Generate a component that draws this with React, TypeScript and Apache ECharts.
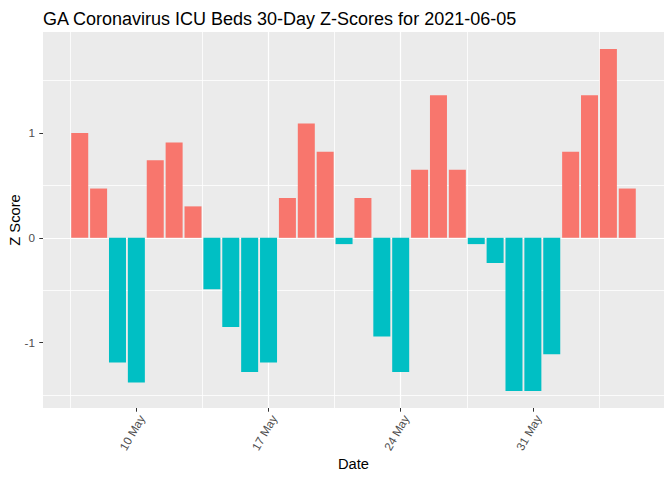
import React, { useEffect, useRef } from "react";
import * as echarts from "echarts";

const dates = [
  "2021-05-07", "2021-05-08", "2021-05-09", "2021-05-10", "2021-05-11", "2021-05-12",
  "2021-05-13", "2021-05-14", "2021-05-15", "2021-05-16", "2021-05-17", "2021-05-18",
  "2021-05-19", "2021-05-20", "2021-05-21", "2021-05-22", "2021-05-23", "2021-05-24",
  "2021-05-25", "2021-05-26", "2021-05-27", "2021-05-28", "2021-05-29", "2021-05-30",
  "2021-05-31", "2021-06-01", "2021-06-02", "2021-06-03", "2021-06-04", "2021-06-05",
];
const zScores = [
  1.0, 0.47, -1.19, -1.38, 0.74, 0.91,
  0.3, -0.49, -0.85, -1.28, -1.19, 0.38,
  1.09, 0.82, -0.06, 0.38, -0.94, -1.28,
  0.65, 1.36, 0.65, -0.06, -0.24, -1.46,
  -1.46, -1.11, 0.82, 1.36, 1.8, 0.47,
];
const xTickDates = ["2021-05-10", "2021-05-17", "2021-05-24", "2021-05-31"];
const yTickValues = [-1, 0, 1];
const monthNames = ["Jan", "Feb", "Mar", "Apr", "May", "Jun", "Jul", "Aug", "Sep", "Oct", "Nov", "Dec"];

const DAY = 86400000;
const originDate = xTickDates[0];
const toMs = (s: string) => {
  const [y, m, d] = s.split("-").map(Number);
  return Date.UTC(y, m - 1, d);
};
const toDay = (s: string) => Math.round((toMs(s) - toMs(originDate)) / DAY);
const dayLabel = (v: number) => {
  const dt = new Date(toMs(originDate) + Math.round(v) * DAY);
  return `${dt.getUTCDate()} ${monthNames[dt.getUTCMonth()]}`;
};

const POS = "#F8766D";
const NEG = "#00BFC4";
const FONT = "Liberation Sans";

export default function App() {
  const ref = useRef<HTMLDivElement>(null);
  useEffect(() => {
    if (!ref.current) return;
    document.body.style.margin = "0";
    const chart = echarts.init(ref.current, null, { renderer: "svg" });
    const xs = dates.map(toDay);
    const xMinData = Math.min(...xs) - 0.45;
    const xMaxData = Math.max(...xs) + 0.45;
    const xPad = (xMaxData - xMinData) * 0.05;
    const yMinData = Math.min(0, ...zScores);
    const yMaxData = Math.max(0, ...zScores);
    const yPad = (yMaxData - yMinData) * 0.05;
    const xTicks = xTickDates.map(toDay);

    chart.setOption({
      animation: false,
      backgroundColor: "#FFFFFF",
      textStyle: { fontFamily: FONT },
      title: {
        text: "GA Coronavirus ICU Beds 30-Day Z-Scores for 2021-06-05",
        left: 43,
        top: 10,
        padding: 0,
        textStyle: { fontFamily: FONT, fontSize: 18, fontWeight: "normal", color: "#000000" },
      },
      grid: {
        left: 43,
        right: 8,
        top: 32,
        bottom: 72,
        containLabel: false,
        outerBoundsMode: "none",
        show: true,
        backgroundColor: "#EBEBEB",
        borderWidth: 0,
      },
      xAxis: {
        type: "value",
        position: "bottom",
        min: xMinData - xPad,
        max: xMaxData + xPad,
        minInterval: 7,
        maxInterval: 7,
        name: "Date",
        nameLocation: "middle",
        nameGap: 48,
        nameMoveOverlap: false,
        nameTextStyle: { fontFamily: FONT, fontSize: 14.7, color: "#000000" },
        axisLine: { show: false, onZero: false },
        axisTick: {
          show: true,
          customValues: xTicks,
          length: 3.7,
          lineStyle: { color: "#333333", width: 1 },
        },
        axisLabel: {
          customValues: xTicks,
          rotate: 60,
          margin: 5,
          verticalAlign: "top",
          fontFamily: FONT,
          fontSize: 11.7,
          color: "#4D4D4D",
          formatter: (v: number) => dayLabel(v),
        },
        splitLine: { show: true, showMinLine: false, showMaxLine: false, lineStyle: { color: "#FFFFFF", width: 1.2 } },
        minorTick: { show: false, splitNumber: 2 },
        minorSplitLine: { show: true, lineStyle: { color: "#FFFFFF", width: 0.8 } },
      },
      yAxis: {
        type: "value",
        position: "left",
        min: yMinData - yPad,
        max: yMaxData + yPad,
        minInterval: 1,
        maxInterval: 1,
        name: "Z Score",
        nameLocation: "middle",
        nameGap: 21,
        nameMoveOverlap: false,
        nameTextStyle: { fontFamily: FONT, fontSize: 14.7, color: "#000000" },
        axisLine: { show: false, onZero: false },
        axisTick: {
          show: true,
          customValues: yTickValues,
          length: 3.7,
          lineStyle: { color: "#333333", width: 1 },
        },
        axisLabel: {
          customValues: yTickValues,
          margin: 8,
          fontFamily: FONT,
          fontSize: 11.7,
          color: "#4D4D4D",
          formatter: (v: number) => String(v),
        },
        splitLine: { show: true, showMinLine: false, showMaxLine: false, lineStyle: { color: "#FFFFFF", width: 1.2 } },
        minorTick: { show: false, splitNumber: 2 },
        minorSplitLine: { show: true, lineStyle: { color: "#FFFFFF", width: 0.8 } },
      },
      series: [
        {
          type: "bar",
          barWidth: 17,
          data: zScores.map((v, i) => ({
            value: [xs[i], v],
            itemStyle: { color: v >= 0 ? POS : NEG },
          })),
        },
      ],
    });
    return () => chart.dispose();
  }, []);
  return (
    <div
      ref={ref}
      style={{ position: "fixed", left: 0, top: 0, width: 672, height: 480 }}
    />
  );
}
